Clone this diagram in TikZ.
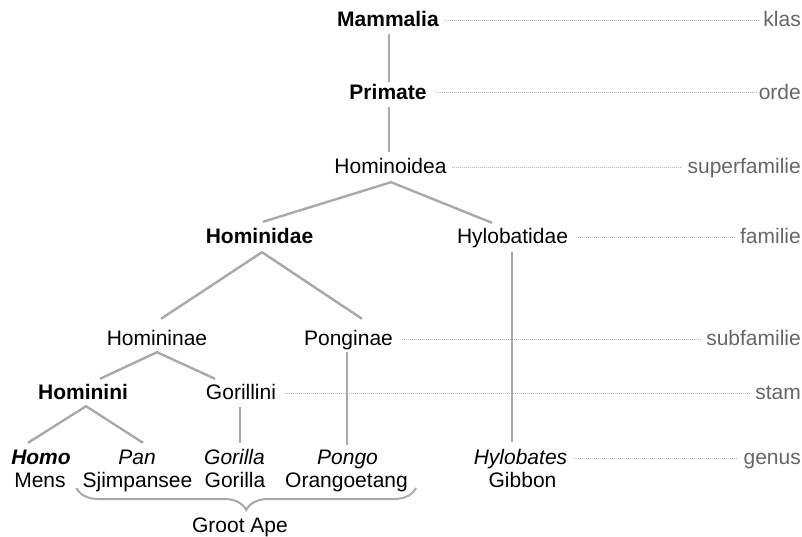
\documentclass[tikz,border=0pt]{standalone}
\usepackage{fontspec}
\setmainfont{Liberation Sans}
\usetikzlibrary{calc,decorations.pathreplacing}
\definecolor{treegray}{HTML}{A9A9A9}
\definecolor{dotgray}{HTML}{B8B8B8}
\definecolor{rankgray}{HTML}{666666}
\begin{document}
\begin{tikzpicture}[x=1pt,y=1pt,
  taxon/.style={inner sep=0pt, anchor=base, text height=15pt, text depth=0pt, font=\fontsize{21}{25}\selectfont},
  rank/.style={inner sep=0pt, anchor=base east, text=rankgray, font=\fontsize{21}{25}\selectfont},
  tree/.style={draw=treegray, line width=2.4pt},
  guide/.style={draw=dotgray, line width=1pt, dash pattern=on 1pt off 1pt},
  bracestyle/.style={draw=treegray, line width=2pt, decorate, decoration={brace, mirror, amplitude=22pt}}]
\useasboundingbox (0,0) rectangle (802,536);
% taxa
\node[taxon] (mam) at (388,509) {\textbf{Mammalia}};
\node[taxon] (pri) at (388,436) {\textbf{Primate}};
\node[taxon] (hoi) at (390.5,362) {Hominoidea};
\node[taxon] (hod) at (259.5,292) {\textbf{Hominidae}};
\node[taxon] (hyl) at (512.5,292) {Hylobatidae};
\node[taxon] (hne) at (157,191) {Homininae};
\node[taxon] (pon) at (348.5,191) {Ponginae};
\node[taxon] (hni) at (83,137) {\textbf{Hominini}};
\node[taxon] (gor) at (241,137) {Gorillini};
\node[taxon] (homo) at (41,72) {\textbf{\textit{Homo}}};
\node[taxon] (pan) at (137,72) {\textit{Pan}};
\node[taxon] (gorg) at (234.5,72) {\textit{Gorilla}};
\node[taxon] (pong) at (347.5,72) {\textit{Pongo}};
\node[taxon] (hylg) at (520.5,72) {\textit{Hylobates}};
\node[taxon] (mens) at (40,49) {Mens};
\node[taxon] (sjim) at (137.5,49) {Sjimpansee};
\node[taxon] (goril) at (235,49) {Gorilla};
\node[taxon] (orang) at (346.5,49) {Orangoetang};
\node[taxon] (hylc) at (522.5,49) {Gibbon};
\node[taxon] (groot) at (240,4) {Groot Ape};
% ranks
\node[rank] (klas) at (801,509) {klas};
\node[rank] (orde) at (801,436) {orde};
\node[rank] (superf) at (801,362) {superfamilie};
\node[rank] (fam) at (801,292) {familie};
\node[rank] (subf) at (801,191) {subfamilie};
\node[rank] (stam) at (801,137) {stam};
\node[rank] (genus) at (801,72) {genus};
% guide lines
\draw[guide] ($(mam.base east)+(5,6)$) -- ($(klas.base west)+(-5,6)$);
\draw[guide] ($(pri.base east)+(9,7)$) -- ($(orde.base west)+(-2,7)$);
\draw[guide] ($(hoi.base east)+(5,6)$) -- ($(superf.base west)+(-6,6)$);
\draw[guide] ($(hyl.base east)+(8,6)$) -- ($(fam.base west)+(-5,6)$);
\draw[guide] ($(pon.base east)+(9,6)$) -- ($(subf.base west)+(-5,6)$);
\draw[guide] ($(gor.base east)+(9,6)$) -- ($(stam.base west)+(-5,6)$);
\draw[guide] ($(hylg.base east)+(7,6)$) -- ($(genus.base west)+(-5,6)$);
% tree
\draw[tree] ($(mam.south)+(1,-7)$) -- ($(pri.north)+(1,3)$);
\draw[tree] ($(pri.south)+(1,-7)$) -- ($(hoi.north)+(-1.5,7)$);
\draw[tree] ($(hod.north)+(3.5,7)$) -- ($(hoi.south)+(0.5,-8)$) -- ($(hyl.north)+(-20.5,6)$);
\draw[tree] ($(hne.north)+(4,11)$) -- ($(hod.south)+(2.5,-8)$) -- ($(pon.north)+(13.5,11)$);
\draw[tree] ($(hyl.south)+(-0.5,-8)$) -- ($(hylg.north)+(-8.5,7)$);
\draw[tree] ($(hni.north)+(17,5)$) -- ($(hne.south)+(0,-7)$) -- ($(gor.north)+(-26,5)$);
\draw[tree] ($(pon.south)+(-1.5,-7)$) -- ($(pong.north)+(-0.5,4)$);
\draw[tree] ($(homo.north)+(-13,6)$) -- ($(hni.south)+(3,-7)$) -- ($(pan.north)+(6,6)$);
\draw[tree] ($(gor.south)+(-1,-8)$) -- ($(gorg.north)+(5.5,6)$);
% brace
\draw[bracestyle] ($(sjim.base west)+(-6,-1)$) -- ($(orang.base east)+(8,-1)$);
\end{tikzpicture}
\end{document}
